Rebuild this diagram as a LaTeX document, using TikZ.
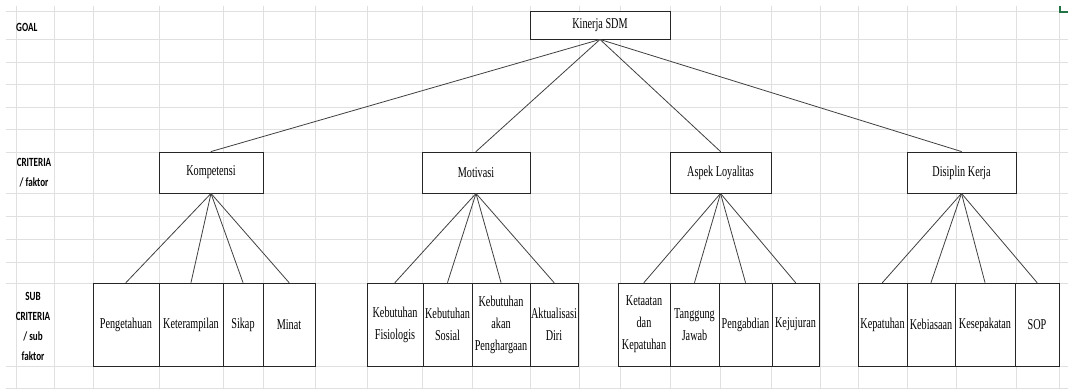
\documentclass[tikz,border=0pt]{standalone}
\usepackage{fontspec}
\setmainfont{Liberation Serif}[FakeStretch=0.68]
\newfontfamily\sidefont{Carlito}[FakeStretch=0.73]
\usepackage{xcolor}
\usepackage{tikz}
\usetikzlibrary{positioning}
\definecolor{gridgray}{RGB}{224,224,224}
\definecolor{excelgreen}{RGB}{33,115,70}
\tikzset{
    mynode/.style = {rectangle, draw=black!85, line width=0.9pt, align=center, fill=white, inner sep=0pt, font=\fontsize{15}{22}\selectfont},
    mylabel/.style = {align=center, inner sep=0pt, font=\sidefont\bfseries\fontsize{12.5}{20}\selectfont},
}

\begin{document}
\begin{tikzpicture}[
	x=1pt, y=-1pt,
	line cap=round
]
\tikzset{
    mynodeg/.style = {mynode, minimum width=140pt, minimum height=28pt},
    mynodec/.style = {mynode, minimum height=41pt},
    mynodes/.style = {mynode, minimum height=83pt},
    edgen/.style = {-, line width=0.8pt, black!75},
    gridl/.style = {gridgray, line width=0.9pt}
}
\fill[white] (0,0) rectangle (1068,389);
\useasboundingbox (0,0) rectangle (1068,389);
% sheet grid
\foreach \gy in {11,39,62,84,107,129,152,193,216,239,262,283,366,388}
    \draw[gridl] (6,\gy) -- (1068,\gy);
\foreach \gx in {16,54,93,159,223,263,315,367,422,472,530,579,620,670,720,771,820,858,907,956,1016,1059}
    \draw[gridl] (\gx,6) -- (\gx,389);
\draw[excelgreen, line width=2pt, line cap=butt] (1060,6) -- (1060,12) -- (1068,12);
%
\node[mylabel, anchor=west] at (16,27) (lgoal) {GOAL};
\node[mylabel] at (34,173) (lcrit) {CRITERIA\\/ faktor};
\node[mylabel] at (33,326) (lsub) {SUB\\CRITERIA\\/ sub\\faktor};
%
\node[mynodeg] at (600,25) (kinerja) {Kinerja SDM};
%
\node[mynodec, minimum width=104pt] at (211,172.5) (komp) {Kompetensi};
\node[mynodec, minimum width=108pt] at (476,172.5) (moti) {Motivasi};
\node[mynodec, minimum width=101pt] at (720.5,172.5) (loya) {Aspek Loyalitas};
\node[mynodec, minimum width=109pt] at (961.5,172.5) (disi) {Disiplin Kerja};
%
\node[mynodes, minimum width=66pt] at (126,324.5) (peng) {Pengetahuan};
\node[mynodes, minimum width=64pt] at (191,324.5) (kete) {Keterampilan};
\node[mynodes, minimum width=40pt] at (243,324.5) (sika) {Sikap};
\node[mynodes, minimum width=52pt] at (289,324.5) (mina) {Minat};
%
\node[mynodes, minimum width=56pt] at (395,324.5) (kfis) {Kebutuhan\\Fisiologis};
\node[mynodes, minimum width=49pt] at (447.5,324.5) (ksos) {Kebutuhan\\Sosial};
\node[mynodes, minimum width=58pt] at (501,324.5) (khar) {Kebutuhan\\akan\\Penghargaan};
\node[mynodes, minimum width=48pt] at (554,324.5) (aktu) {Aktualisasi\\Diri};
%
\node[mynodes, minimum width=52pt] at (644,324.5) (keta) {Ketaatan\\dan\\Kepatuhan};
\node[mynodes, minimum width=49pt] at (694.5,324.5) (tang) {Tanggung\\Jawab};
\node[mynodes, minimum width=53pt] at (745.5,324.5) (peab) {Pengabdian};
\node[mynodes, minimum width=47pt] at (795.5,324.5) (keju) {Kejujuran};
%
\node[mynodes, minimum width=49pt] at (882.5,324.5) (kepa) {Kepatuhan};
\node[mynodes, minimum width=48pt] at (931,324.5) (kebi) {Kebiasaan};
\node[mynodes, minimum width=60pt] at (985,324.5) (kese) {Kesepakatan};
\node[mynodes, minimum width=44pt] at (1037,324.5) (sop) {SOP};
%
\draw[edgen] (kinerja.south) edge (komp.north);
\draw[edgen] (kinerja.south) edge (moti.north);
\draw[edgen] (kinerja.south) edge (loya.north);
\draw[edgen] (kinerja.south) edge (disi.north);
%
\draw[edgen] (komp.south) edge (peng.north);
\draw[edgen] (komp.south) edge (kete.north);
\draw[edgen] (komp.south) edge (sika.north);
\draw[edgen] (komp.south) edge (mina.north);
%
\draw[edgen] (moti.south) edge (kfis.north);
\draw[edgen] (moti.south) edge (ksos.north);
\draw[edgen] (moti.south) edge (khar.north);
\draw[edgen] (moti.south) edge (aktu.north);
%
\draw[edgen] (loya.south) edge (keta.north);
\draw[edgen] (loya.south) edge (tang.north);
\draw[edgen] (loya.south) edge (peab.north);
\draw[edgen] (loya.south) edge (keju.north);
%
\draw[edgen] (disi.south) edge (kepa.north);
\draw[edgen] (disi.south) edge (kebi.north);
\draw[edgen] (disi.south) edge (kese.north);
\draw[edgen] (disi.south) edge (sop.north);
\end{tikzpicture}
\end{document}
